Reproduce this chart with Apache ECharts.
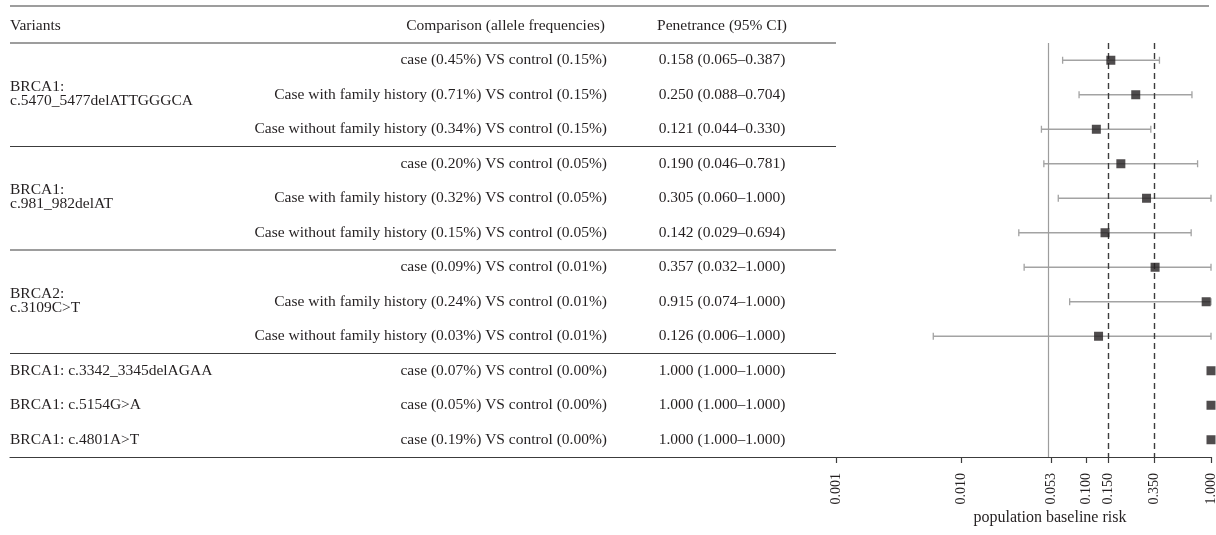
<!DOCTYPE html>
<html>
<head>
<meta charset="utf-8">
<script src="https://cdn.jsdelivr.net/npm/echarts@6/dist/echarts.min.js"></script>
<style>
  html, body { margin: 0; padding: 0; background: #fff; }
  #chart { width: 1216px; height: 535px; }
</style>
</head>
<body>
<div id="chart"></div>
<script>
// Variant groups (name shown once per group, on its middle row)
const variantNames = [
  'BRCA1:\nc.5470_5477delATTGGGCA',
  'BRCA1:\nc.981_982delAT',
  'BRCA2:\nc.3109C>T',
  'BRCA1: c.3342_3345delAGAA',
  'BRCA1: c.5154G>A',
  'BRCA1: c.4801A>T'
];
const groupSizes = [3, 3, 3, 1, 1, 1];
// Table sections separated by a rule
const sectionSizes = [3, 3, 3, 3];

// One entry per row
const caseLabels = [
  'case', 'Case with family history', 'Case without family history',
  'case', 'Case with family history', 'Case without family history',
  'case', 'Case with family history', 'Case without family history',
  'case', 'case', 'case'
];
const caseFreq    = [0.45, 0.71, 0.34, 0.20, 0.32, 0.15, 0.09, 0.24, 0.03, 0.07, 0.05, 0.19];
const controlFreq = [0.15, 0.15, 0.15, 0.05, 0.05, 0.05, 0.01, 0.01, 0.01, 0.00, 0.00, 0.00];
const penetrance  = [0.158, 0.250, 0.121, 0.190, 0.305, 0.142, 0.357, 0.915, 0.126, 1.000, 1.000, 1.000];
const ciLower     = [0.065, 0.088, 0.044, 0.046, 0.060, 0.029, 0.032, 0.074, 0.006, 1.000, 1.000, 1.000];
const ciUpper     = [0.387, 0.704, 0.330, 0.781, 1.000, 0.694, 1.000, 1.000, 1.000, 1.000, 1.000, 1.000];

// Axis ticks and reference risks
const tickValues = [0.001, 0.010, 0.053, 0.100, 0.150, 0.350, 1.000];
const baselineRisk = 0.053;
const referenceRisks = [0.150, 0.350];

const FONT = 'Liberation Serif';
const INK = '#231f20';
const RULE = '#3c3c3c';
const FS = 15.5;

const rowIds = caseLabels.map((_, i) => String(i));

// Variant label for each row; two-line names get a thin spacer line so the block sits a little high
const variantByRow = rowIds.map(() => '');
let start = 0;
groupSizes.forEach((size, g) => {
  const lines = variantNames[g].split('\n');
  variantByRow[start + Math.floor(size / 2)] = lines.length > 1
    ? lines.map(l => `{v|${l}}`).join('\n') + '\n{s| }'
    : `{v|${lines[0]}}`;
  start += size;
});
const sectionStarts = [];
start = 0;
sectionSizes.forEach(size => { sectionStarts.push(start); start += size; });

const comparisonText = caseLabels.map((c, i) =>
  `${c} (${caseFreq[i].toFixed(2)}%) VS control (${controlFreq[i].toFixed(2)}%)`);
const penetranceText = penetrance.map((p, i) =>
  `${p.toFixed(3)} (${ciLower[i].toFixed(3)}\u2013${ciUpper[i].toFixed(3)})`);

const textStyle = { fontFamily: FONT, fontSize: FS, color: INK };
const font = size => `${size}px "${FONT}"`;

const chart = echarts.init(document.getElementById('chart'), null, { renderer: 'canvas' });

const rowAxis = (gridIndex, label) => ({
  type: 'category',
  gridIndex,
  position: 'left',
  offset: 0,
  inverse: true,
  data: rowIds,
  axisLine: { show: false },
  axisTick: { show: false },
  splitLine: { show: false },
  axisLabel: label || { show: false }
});

chart.setOption({
  animation: false,
  backgroundColor: '#fff',
  textStyle: { fontFamily: FONT },
  grid: [
    { left: 10, right: 380, top: 43, bottom: 78, outerBoundsMode: 'none', containLabel: false },   // table
    { left: 836, right: 5, top: 43, bottom: 78, outerBoundsMode: 'none', containLabel: false }     // forest plot
  ],
  xAxis: [
    {
      type: 'value', gridIndex: 0, min: 0, max: 1,
      axisLine: { show: true, lineStyle: { color: RULE, width: 1.2 } },
      axisTick: { show: false }, axisLabel: { show: false }, splitLine: { show: false }
    },
    {
      type: 'log', gridIndex: 1, logBase: 10, min: 0.001, max: 1,
      axisLine: { show: true, onZero: false, lineStyle: { color: RULE, width: 1.2 } },
      axisTick: { show: true, length: 6, customValues: tickValues, lineStyle: { color: RULE, width: 1.2 } },
      axisLabel: {
        show: true, customValues: tickValues, rotate: 90, margin: 16,
        formatter: v => Number(v).toFixed(3),
        fontFamily: FONT, fontSize: 14, color: INK
      },
      splitLine: { show: false }
    }
  ],
  yAxis: [
    rowAxis(0, {
      show: true, inside: true, margin: 0, interval: 0, align: 'left',
      formatter: (v, i) => variantByRow[i],
      rich: {
        v: { fontFamily: FONT, fontSize: FS, color: INK, lineHeight: 14 },
        s: { fontFamily: FONT, fontSize: 2, lineHeight: 2 }
      }
    }),
    rowAxis(1, {
      show: true, margin: 229, interval: 0, align: 'right',
      formatter: (v, i) => comparisonText[i], ...textStyle
    }),
    rowAxis(1, {
      show: true, margin: 114, interval: 0, align: 'center',
      formatter: (v, i) => penetranceText[i], ...textStyle
    })
  ],
  graphic: [
    { type: 'line', shape: { x1: 10, y1: 6, x2: 1209, y2: 6 }, style: { stroke: RULE, lineWidth: 1.2 } },
    { type: 'text', x: 10, y: 26, style: { text: 'Variants', textAlign: 'left', textVerticalAlign: 'middle', font: font(FS), fill: INK } },
    { type: 'text', x: 605, y: 26, style: { text: 'Comparison (allele frequencies)', textAlign: 'right', textVerticalAlign: 'middle', font: font(FS), fill: INK } },
    { type: 'text', x: 722, y: 26, style: { text: 'Penetrance (95% CI)', textAlign: 'center', textVerticalAlign: 'middle', font: font(FS), fill: INK } },
    { type: 'text', x: 1050, y: 518, style: { text: 'population baseline risk', textAlign: 'center', textVerticalAlign: 'middle', font: font(16), fill: INK } }
  ],
  series: [
    {
      // horizontal rules above each table section
      type: 'custom',
      xAxisIndex: 0, yAxisIndex: 0,
      clip: false, silent: true,
      data: sectionStarts.map(s => [0, s]),
      encode: { x: 0, y: 1 },
      renderItem(params, api) {
        const c = api.coord([0, api.value(1)]);
        const band = api.size([0, 1])[1];
        const y = c[1] - band / 2;
        const cs = params.coordSys;
        return {
          type: 'line',
          shape: { x1: cs.x, y1: y, x2: cs.x + cs.width, y2: y },
          style: { stroke: RULE, lineWidth: 1.2 }
        };
      }
    },
    {
      // confidence intervals
      type: 'custom',
      xAxisIndex: 1, yAxisIndex: 1,
      clip: false, silent: true,
      data: rowIds.map((r, i) => [ciLower[i], ciUpper[i], i]),
      encode: { x: [0, 1], y: 2 },
      renderItem(params, api) {
        const lo = api.coord([api.value(0), api.value(2)]);
        const hi = api.coord([api.value(1), api.value(2)]);
        if (hi[0] - lo[0] < 0.5) return { type: 'group', children: [] };
        const cap = 3.5;
        const st = { stroke: '#a3a3a3', lineWidth: 1.3 };
        return {
          type: 'group',
          children: [
            { type: 'line', shape: { x1: lo[0], y1: lo[1], x2: hi[0], y2: hi[1] }, style: st },
            { type: 'line', shape: { x1: lo[0], y1: lo[1] - cap, x2: lo[0], y2: lo[1] + cap }, style: st },
            { type: 'line', shape: { x1: hi[0], y1: hi[1] - cap, x2: hi[0], y2: hi[1] + cap }, style: st }
          ]
        };
      }
    },
    {
      // point estimates
      type: 'scatter',
      xAxisIndex: 1, yAxisIndex: 1,
      clip: false, silent: true,
      symbol: 'rect', symbolSize: 9,
      itemStyle: { color: INK },
      data: rowIds.map((r, i) => [penetrance[i], i]),
      z: 5,
      markLine: {
        silent: true, symbol: 'none', label: { show: false },
        data: [
          { xAxis: baselineRisk, lineStyle: { type: 'solid', color: '#9d9d9d', width: 1.2 } },
          ...referenceRisks.map(v => ({ xAxis: v, lineStyle: { type: [6, 4], color: '#3c3c3c', width: 1.4 } }))
        ]
      }
    }
  ]
});
</script>
</body>
</html>
